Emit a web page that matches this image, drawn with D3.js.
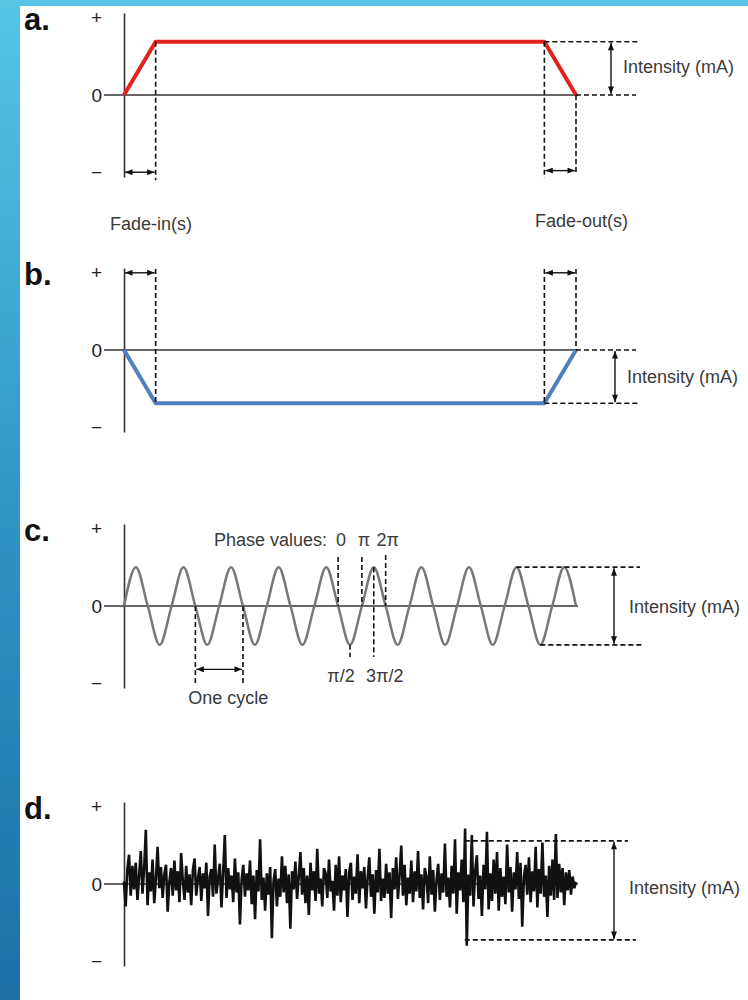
<!DOCTYPE html>
<html><head><meta charset="utf-8">
<script src="https://cdn.jsdelivr.net/npm/d3@7"></script>
<style>body{margin:0;background:#fff}svg{display:block}</style>
</head><body>
<svg id="chart" width="748" height="1000"></svg>
<script>
// ---------- data ----------
const panelLabels = ["a.", "b.", "c.", "d."];
const tickValues = [1.45, 0, -1.45];
const tickLabels = ["+", "0", "\u2212"];
const rampTime = [0, 7, 93, 100];
const rampAnodal = [0, 1, 1, 0];
const rampCathodal = [0, -1, -1, 0];
const sineTime = [0, 2.63, 5.26, 7.89, 10.53, 13.16, 15.79, 18.42, 21.05, 23.68, 26.32, 28.95, 31.58, 34.21, 36.84, 39.47, 42.11, 44.74, 47.37, 50.0, 52.63, 55.26, 57.89, 60.53, 63.16, 65.79, 68.42, 71.05, 73.68, 76.32, 78.95, 81.58, 84.21, 86.84, 89.47, 92.11, 94.74, 97.37, 100];
const sineLevel = [0, 0.73, 0, -0.73, 0, 0.73, 0, -0.73, 0, 0.73, 0, -0.73, 0, 0.73, 0, -0.73, 0, 0.73, 0, -0.73, 0, 0.73, 0, -0.73, 0, 0.73, 0, -0.73, 0, 0.73, 0, -0.73, 0, 0.73, 0, -0.73, 0, 0.73, 0];
const phaseNames = ["0", "\u03c0/2", "\u03c0", "3\u03c0/2", "2\u03c0"];
const phaseTime = [47.37, 50.0, 52.63, 55.26, 57.89];
const cycleTime = [15.79, 26.32];
const noise = [
 0.05,-0.42,0.28,0.55,-0.22,0.34,-0.10,0.40,-0.30,0.16,0.62,-0.18,0.30,1.02,-0.40,
 0.22,-0.14,0.46,-0.36,0.10,0.70,-0.08,0.32,-0.26,0.18,0.36,-0.52,0.04,0.30,-0.22,
 0.44,-0.12,0.24,-0.34,0.58,0.08,-0.30,0.34,-0.16,0.18,-0.40,0.26,0.48,-0.22,0.10,
 0.32,-0.32,0.20,-0.08,0.40,-0.60,0.14,0.28,-0.24,0.74,-0.18,0.10,0.38,-0.44,0.22,
 0.92,-0.26,0.30,-0.10,0.16,-0.34,0.48,-0.16,0.22,-0.76,0.08,0.36,-0.24,0.20,-0.12,
 0.44,-0.38,0.16,-0.66,0.26,-0.14,0.84,-0.30,0.12,-0.50,0.20,-0.20,0.32,-1.02,0.06,
 0.28,-0.42,0.10,-0.24,0.52,-0.16,0.34,-0.36,0.18,-0.84,0.24,-0.10,0.42,-0.28,0.14,
 0.60,-0.20,0.30,-0.36,0.16,-0.58,0.40,-0.12,0.24,-0.32,0.66,-0.18,0.10,-0.42,0.30,
 0.20,-0.26,0.46,-0.14,0.06,-0.50,0.36,-0.22,0.52,-0.34,0.16,-0.12,0.28,-0.62,0.22,
 0.40,-0.30,0.14,-0.18,0.56,-0.36,0.24,-0.08,0.32,-0.46,0.12,0.50,-0.24,0.18,-0.56,
 0.26,-0.16,0.66,-0.32,0.10,-0.26,0.38,-0.18,0.22,-0.64,0.30,-0.10,0.50,-0.28,0.16,
 0.72,-0.22,0.36,-0.40,0.12,-0.18,0.44,-0.34,0.24,-0.14,0.62,-0.26,0.18,-0.48,0.30,
 0.14,-0.36,0.52,-0.20,0.26,-0.52,0.08,0.38,-0.30,0.20,-0.16,0.76,-0.24,0.12,-0.44,
 0.34,-0.18,0.84,-0.56,0.22,-0.12,0.46,-0.34,1.04,-1.16,0.18,-0.22,0.92,-0.42,0.24,
 0.54,-0.28,0.16,-0.60,0.36,-0.10,0.98,-0.48,0.20,-0.32,0.46,-0.18,0.60,-0.50,0.30,
 -0.24,0.14,-0.38,0.74,-0.16,0.32,-0.52,0.22,-0.10,0.60,-0.28,0.40,-0.80,0.12,0.36,
 -0.20,0.50,-0.34,0.24,-0.14,0.70,-0.44,0.28,-0.18,0.78,-0.24,0.16,-0.62,0.34,-0.22,
 0.46,-0.30,0.94,-0.26,0.38,-0.16,0.30,-0.40,0.22,-0.12,0.26,-0.20,0.14,-0.08,0.04
];
const noiseStart = 75.4;
const noiseEnvelope = [0.81, -1.05];
const textIntensity = "Intensity (mA)";

// ---------- drawing ----------
const svg = d3.select("#chart");
const FONT = "'Liberation Sans', Arial, sans-serif";
const defs = svg.append("defs");
const grad = defs.append("linearGradient").attr("id", "side").attr("x1", 0).attr("y1", 0).attr("x2", 0).attr("y2", 1);
grad.append("stop").attr("offset", "0%").attr("stop-color", "#55c6e6");
grad.append("stop").attr("offset", "50%").attr("stop-color", "#2f96c6");
grad.append("stop").attr("offset", "100%").attr("stop-color", "#1d6fa6");
defs.append("marker").attr("id", "ah").attr("viewBox", "0 0 10 8").attr("refX", 10).attr("refY", 4)
  .attr("markerWidth", 8).attr("markerHeight", 6).attr("markerUnits", "userSpaceOnUse")
  .attr("orient", "auto-start-reverse")
  .append("path").attr("d", "M0,0L10,4L0,8Z").attr("fill", "#111");

svg.append("rect").attr("x", 0).attr("y", 0).attr("width", 748).attr("height", 1000).attr("fill", "#fff");
svg.append("rect").attr("x", 0).attr("y", 0).attr("width", 20).attr("height", 1000).attr("fill", "url(#side)");
svg.append("rect").attr("x", 0).attr("y", 0).attr("width", 748).attr("height", 6).attr("fill", "#56c5e5");

const x = d3.scaleLinear().domain([0, 100]).range([124, 576]);
const zeros = [95, 350, 606, 884];
const yScales = zeros.map(z => d3.scaleLinear().domain([-1.54, 1.54]).range([z + 82, z - 82]));

function dashed(g, x1, y1, x2, y2) {
  g.append("line").attr("x1", x1).attr("y1", y1).attr("x2", x2).attr("y2", y2)
    .attr("stroke", "#111").attr("stroke-width", 1.6).attr("stroke-dasharray", "5,3");
}
function arrow(g, x1, y1, x2, y2) {
  g.append("line").attr("x1", x1).attr("y1", y1).attr("x2", x2).attr("y2", y2)
    .attr("stroke", "#111").attr("stroke-width", 1.4)
    .attr("marker-start", "url(#ah)").attr("marker-end", "url(#ah)");
}
function label(g, tx, ty, s, size, anchor) {
  g.append("text").attr("x", tx).attr("y", ty).attr("font-family", FONT)
    .attr("font-size", size || 18).attr("fill", "#3a3a3a")
    .attr("text-anchor", anchor || "start").text(s);
}

panelLabels.forEach((p, i) => {
  const y = yScales[i];
  const g = svg.append("g");
  g.append("text").attr("x", 24).attr("y", zeros[i] - 65).attr("font-family", FONT)
    .attr("font-size", 31).attr("font-weight", "bold").attr("fill", "#111").text(p);
  g.append("line").attr("x1", 104).attr("x2", 578).attr("y1", y(0)).attr("y2", y(0))
    .attr("stroke", "#333").attr("stroke-width", 1.4);
  const ax = g.append("g").attr("transform", "translate(124,0)")
    .call(d3.axisLeft(y).tickValues(tickValues).tickSize(0).tickSizeOuter(0).tickPadding(22)
      .tickFormat((d, k) => tickLabels[k]));
  ax.select(".domain").attr("stroke", "#333").attr("stroke-width", 1.6);
  ax.selectAll("text").attr("font-family", FONT).attr("font-size", 19).attr("fill", "#222");
});

// ---- panel a ----
{
  const y = yScales[0], g = svg.append("g");
  const line = d3.line().x((d, k) => x(rampTime[k])).y(d => y(d));
  g.append("path").attr("d", line(rampAnodal)).attr("fill", "none")
    .attr("stroke", "#e4221d").attr("stroke-width", 4).attr("stroke-linejoin", "round");
  dashed(g, x(rampTime[1]), y(1), x(rampTime[1]), y(-1.6));
  dashed(g, x(rampTime[2]), y(1), x(rampTime[2]), y(-1.56));
  dashed(g, x(rampTime[3]), y(0), x(rampTime[3]), y(-1.45));
  arrow(g, x(rampTime[0]) + 1, y(-1.45), x(rampTime[1]) - 1, y(-1.45));
  arrow(g, x(rampTime[2]) + 1, y(-1.42), x(rampTime[3]) - 1, y(-1.42));
  dashed(g, x(rampTime[2]), y(1), 638, y(1));
  dashed(g, x(rampTime[3]), y(0), 636, y(0));
  arrow(g, 611, y(1) + 1, 611, y(0) - 1);
  label(g, 623, y(0.5) + 5, textIntensity);
  label(g, 110, 230, "Fade-in(s)");
  label(g, 535, 227, "Fade-out(s)");
}
// ---- panel b ----
{
  const y = yScales[1], g = svg.append("g");
  const line = d3.line().x((d, k) => x(rampTime[k])).y(d => y(d));
  g.append("path").attr("d", line(rampCathodal)).attr("fill", "none")
    .attr("stroke", "#4f80bf").attr("stroke-width", 4).attr("stroke-linejoin", "round");
  dashed(g, x(rampTime[1]), y(1.52), x(rampTime[1]), y(-1));
  dashed(g, x(rampTime[2]), y(1.52), x(rampTime[2]), y(-1));
  dashed(g, x(rampTime[3]), y(1.52), x(rampTime[3]), y(0));
  arrow(g, x(rampTime[0]) + 1, y(1.45), x(rampTime[1]) - 1, y(1.45));
  arrow(g, x(rampTime[2]) + 1, y(1.45), x(rampTime[3]) - 1, y(1.45));
  dashed(g, x(rampTime[3]), y(0), 636, y(0));
  dashed(g, x(rampTime[2]), y(-1), 640, y(-1));
  arrow(g, 615, y(0) + 1, 615, y(-1) - 1);
  label(g, 627, y(-0.5) + 6, textIntensity);
}
// ---- panel c ----
{
  const y = yScales[2], g = svg.append("g");
  const line = d3.line().x((d, k) => x(sineTime[k])).y(d => y(d)).curve(d3.curveMonotoneX);
  g.append("path").attr("d", line(sineLevel)).attr("fill", "none")
    .attr("stroke", "#777").attr("stroke-width", 2.5);
  const pTop = [0.92, -0.73, 0.92, 0.73, 0.96];
  const pBot = [0, -0.96, 0, -0.96, 0];
  phaseTime.forEach((t, k) => dashed(g, x(t), y(pTop[k]), x(t), y(pBot[k])));
  label(g, 214, 546, "Phase values:");
  label(g, x(phaseTime[0]) + 3, 546, phaseNames[0], 18, "middle");
  label(g, x(phaseTime[2]) + 2, 546, phaseNames[2], 18, "middle");
  label(g, x(phaseTime[4]) + 2, 546, phaseNames[4], 18, "middle");
  label(g, x(phaseTime[1]) - 9, 682, phaseNames[1], 18, "middle");
  label(g, x(phaseTime[3]) + 11, 682, phaseNames[3], 18, "middle");
  cycleTime.forEach(t => dashed(g, x(t), y(0), x(t), y(-1.46)));
  arrow(g, x(cycleTime[0]) + 1, y(-1.19), x(cycleTime[1]) - 1, y(-1.19));
  label(g, (x(cycleTime[0]) + x(cycleTime[1])) / 2 + 9, 704, "One cycle", 18, "middle");
  dashed(g, x(sineTime[33]), y(0.73), 640, y(0.73));
  dashed(g, x(sineTime[35]), y(-0.73), 642, y(-0.73));
  arrow(g, 614, y(0.73) + 1, 614, y(-0.73) - 1);
  label(g, 629, y(0) + 7, textIntensity);
}
// ---- panel d ----
{
  const y = yScales[3], g = svg.append("g");
  const xn = d3.scaleLinear().domain([0, noise.length - 1]).range([0, 100]);
  const line = d3.line().x((d, k) => x(xn(k))).y(d => y(d));
  g.append("path").attr("d", line(noise)).attr("fill", "none")
    .attr("stroke", "#111").attr("stroke-width", 2.6).attr("stroke-linejoin", "miter");
  dashed(g, x(noiseStart), y(noiseEnvelope[0]), 628, y(noiseEnvelope[0]));
  dashed(g, x(noiseStart), y(noiseEnvelope[1]), 636, y(noiseEnvelope[1]));
  arrow(g, 614, y(noiseEnvelope[0]) + 1, 614, y(noiseEnvelope[1]) - 1);
  label(g, 629, y(0) + 10, textIntensity);
}
</script>
</body></html>
